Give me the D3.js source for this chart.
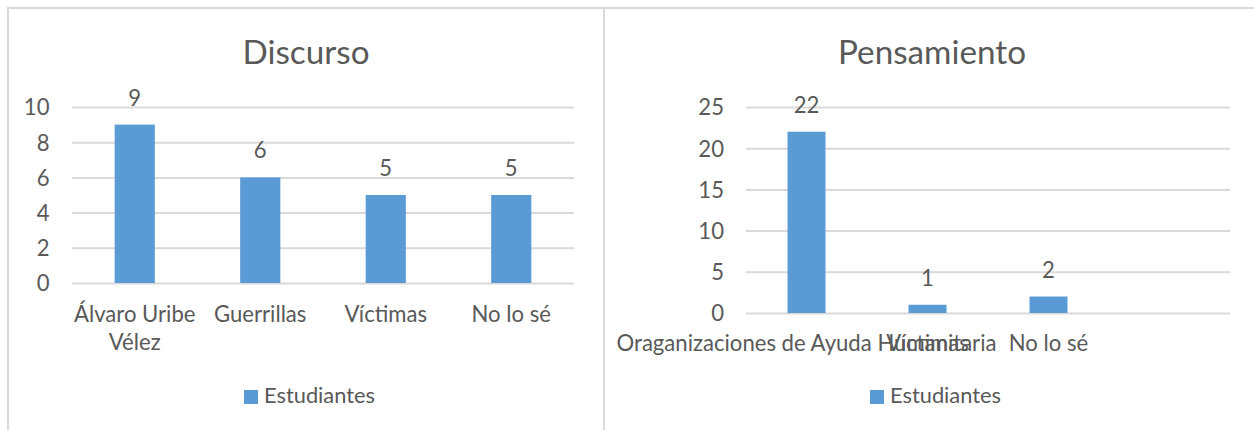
<!DOCTYPE html>
<html>
<head>
<meta charset="utf-8">
<script src="https://cdn.jsdelivr.net/npm/d3@7"></script>
<style>
  html, body { margin: 0; padding: 0; background: #fff; }
  svg { display: block; }
  text { font-family: Lato, "Noto Sans", sans-serif; fill: #595959; }
</style>
</head>
<body>
<svg id="chart" width="1254" height="430"></svg>
<script>
// ---- Data ----
const leftTitle = "Discurso";
const leftCategories = ["Álvaro Uribe Vélez", "Guerrillas", "Víctimas", "No lo sé"];
const leftValues = [9, 6, 5, 5];
const leftTicks = [0, 2, 4, 6, 8, 10];

const rightTitle = "Pensamiento";
const rightCategories = ["Oraganizaciones de Ayuda Humanitaria", "Víctimas", "No lo sé", ""];
const rightValues = [22, 1, 2, null];
const rightTicks = [0, 5, 10, 15, 20, 25];

const seriesName = "Estudiantes";

// ---- Styles ----
const barColor = "#5b9bd5";
const gridColor = "#d9d9d9";
const borderColor = "#d9d9d9";

const svg = d3.select("#chart");

// font fitting: choose font sizes so widths match the original layout
function fitSize(str, target) {
  const t = svg.append("text").attr("font-size", 100).text(str);
  const w = t.node().getComputedTextLength();
  t.remove();
  return 100 * target / w;
}
const titleSize = fitSize("Discurso", 127);
const labelSize = fitSize("Oraganizaciones de Ayuda Humanitaria", 380);
const legendSize = fitSize("Estudiantes", 111);

// ---- Borders ----
svg.append("line").attr("x1", 7).attr("x2", 1254).attr("y1", 8).attr("y2", 8)
  .attr("stroke", borderColor).attr("stroke-width", 2);
svg.append("line").attr("x1", 8).attr("x2", 8).attr("y1", 7).attr("y2", 430)
  .attr("stroke", borderColor).attr("stroke-width", 2);
svg.append("line").attr("x1", 604).attr("x2", 604).attr("y1", 7).attr("y2", 430)
  .attr("stroke", borderColor).attr("stroke-width", 2);

function wrapLines(str, maxW, size) {
  const words = str.split(" ");
  const lines = [];
  let cur = "";
  const t = svg.append("text").attr("font-size", size);
  for (const w of words) {
    const test = cur ? cur + " " + w : w;
    t.text(test);
    if (t.node().getComputedTextLength() > maxW && cur) {
      lines.push(cur);
      cur = w;
    } else {
      cur = test;
    }
  }
  if (cur) lines.push(cur);
  t.remove();
  return lines;
}

function drawChart(cfg) {
  const g = svg.append("g");
  const x = d3.scaleBand()
    .domain(cfg.categories.map((d, i) => i))
    .range([cfg.x0, cfg.x1])
    .paddingInner(cfg.pad)
    .paddingOuter(cfg.pad / 2);
  const y = d3.scaleLinear()
    .domain([0, d3.max(cfg.ticks)])
    .range([cfg.y0, cfg.y1]);

  // title
  g.append("text")
    .attr("x", cfg.titleX).attr("y", 64)
    .attr("text-anchor", "middle")
    .attr("font-size", titleSize)
    .text(cfg.title);

  // gridlines via axis
  const grid = g.append("g")
    .attr("transform", `translate(${cfg.x0},0)`)
    .call(d3.axisLeft(y).tickValues(cfg.ticks).tickSize(-(cfg.x1 - cfg.x0)).tickFormat(""));
  grid.select(".domain").remove();
  grid.selectAll(".tick line").attr("stroke", gridColor).attr("stroke-width", 2);

  // tick labels via axis
  const yAx = g.append("g")
    .attr("transform", `translate(${cfg.tickX},0)`)
    .call(d3.axisLeft(y).tickValues(cfg.ticks).tickSize(0).tickPadding(0));
  yAx.select(".domain").remove();
  yAx.selectAll(".tick text")
    .attr("font-size", labelSize)
    .attr("font-family", "Lato, 'Noto Sans', sans-serif")
    .attr("fill", "#595959")
    .attr("dy", "0.36em");

  const data = cfg.categories.map((c, i) => ({ c, i, v: cfg.values[i] }))
    .filter(d => d.v != null);

  // bars
  g.selectAll("rect.bar").data(data).enter().append("rect")
    .attr("class", "bar")
    .attr("x", d => x(d.i))
    .attr("width", x.bandwidth())
    .attr("y", d => y(d.v))
    .attr("height", d => y(0) - y(d.v))
    .attr("fill", barColor);

  // data labels
  g.selectAll("text.dl").data(data).enter().append("text")
    .attr("class", "dl")
    .attr("x", d => x(d.i) + x.bandwidth() / 2)
    .attr("y", d => y(d.v) - 19)
    .attr("text-anchor", "middle")
    .attr("font-size", labelSize)
    .text(d => d.v);

  // category labels
  cfg.categories.forEach((c, i) => {
    if (!c) return;
    const lines = wrapLines(c, cfg.wrapW === Infinity ? Infinity : x.step(), labelSize);
    const t = g.append("text")
      .attr("text-anchor", "middle")
      .attr("font-size", labelSize)
      .attr("x", x(i) + x.bandwidth() / 2)
      .attr("y", cfg.catY);
    lines.forEach((ln, k) => {
      t.append("tspan")
        .attr("x", x(i) + x.bandwidth() / 2)
        .attr("y", cfg.catY + k * 28)
        .text(ln);
    });
  });

  // legend
  g.append("rect")
    .attr("x", cfg.legX).attr("y", 390)
    .attr("width", 14).attr("height", 14)
    .attr("fill", barColor);
  g.append("text")
    .attr("x", cfg.legX + 20).attr("y", 403)
    .attr("font-size", legendSize)
    .text(seriesName);
}

drawChart({
  title: leftTitle, titleX: 306,
  categories: leftCategories, values: leftValues, ticks: leftTicks,
  x0: 72, x1: 574, y0: 283, y1: 107, pad: 0.68,
  tickX: 49.5, catY: 322, wrapW: 1, legX: 244
});

drawChart({
  title: rightTitle, titleX: 932,
  categories: rightCategories, values: rightValues, ticks: rightTicks,
  x0: 746, x1: 1230, y0: 313, y1: 107, pad: 0.686,
  tickX: 724, catY: 351, wrapW: Infinity, legX: 870
});
</script>
</body>
</html>
